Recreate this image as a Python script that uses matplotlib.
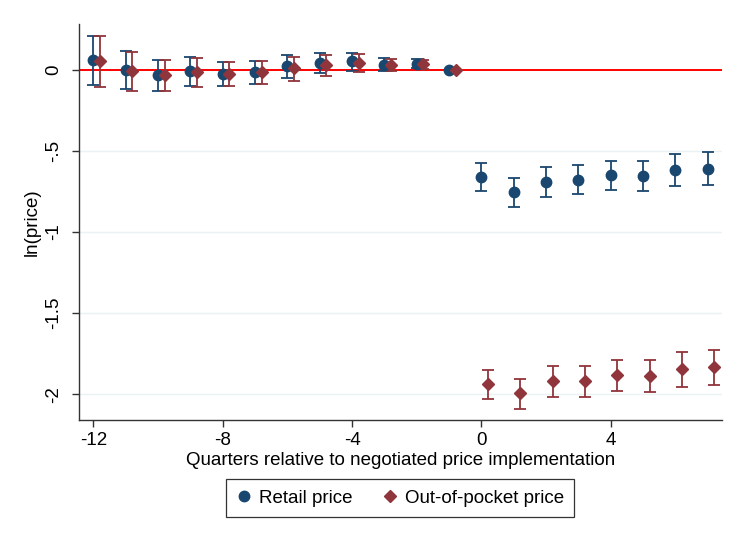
import matplotlib
matplotlib.use("Agg")
import matplotlib.pyplot as plt
import numpy as np

plt.rcParams["font.family"] = ["Liberation Sans", "DejaVu Sans"]

# event-time quarters (-1 is the omitted reference period)
quarters = [-12, -11, -10, -9, -8, -7, -6, -5, -4, -3, -2, -1, 0, 1, 2, 3, 4, 5, 6, 7]

retail = [0.06, 0.0, -0.033, -0.01, -0.027, -0.016, 0.02, 0.041, 0.051, 0.031, 0.035, 0.0,
          -0.662, -0.756, -0.693, -0.683, -0.652, -0.656, -0.617, -0.611]
retail_lo = [-0.094, -0.119, -0.129, -0.102, -0.1, -0.088, -0.053, -0.022, -0.006, -0.006, 0.01, 0.0,
             -0.746, -0.847, -0.785, -0.769, -0.742, -0.748, -0.715, -0.711]
retail_hi = [0.209, 0.117, 0.059, 0.08, 0.045, 0.051, 0.092, 0.102, 0.102, 0.07, 0.064, 0.0,
             -0.576, -0.670, -0.601, -0.59, -0.564, -0.564, -0.517, -0.506]

oop = [0.051, -0.01, -0.033, -0.016, -0.027, -0.016, 0.008, 0.031, 0.041, 0.029, 0.033, 0.0,
       -1.937, -1.995, -1.921, -1.921, -1.882, -1.888, -1.847, -1.835]
oop_lo = [-0.105, -0.129, -0.129, -0.109, -0.1, -0.088, -0.068, -0.037, -0.016, -0.01, 0.006, 0.0,
          -2.028, -2.089, -2.019, -2.015, -1.980, -1.988, -1.958, -1.946]
oop_hi = [0.209, 0.107, 0.059, 0.072, 0.045, 0.051, 0.08, 0.09, 0.096, 0.064, 0.062, 0.0,
          -1.851, -1.909, -1.825, -1.825, -1.788, -1.790, -1.739, -1.728]

x_ticks = [-12, -8, -4, 0, 4]
y_ticks = [0, -0.5, -1, -1.5, -2]
y_tick_labels = ["0", "-.5", "-1", "-1.5", "-2"]

navy = "#1a476f"
maroon = "#90353b"
grid_col = "#eaf2f3"
fs = 13.5

fig = plt.figure(figsize=(7.37, 5.38), dpi=100)
ax = fig.add_axes([0.107, 0.219, 0.873, 0.736])

x = np.array(quarters, dtype=float)
x_oop = x + 0.2

def draw(ax, xs, est, lo, hi, color, marker, ms, label):
    est = np.array(est)
    err = np.vstack([est - np.array(lo), np.array(hi) - est])
    has_ci = err.sum(axis=0) > 0
    ax.errorbar(xs[has_ci], est[has_ci], yerr=err[:, has_ci], fmt="none",
                ecolor=color, elinewidth=1.3, capsize=4.5, capthick=1.3, zorder=3)
    ax.plot(xs, est, linestyle="none", marker=marker, markersize=ms,
            color=color, markeredgecolor=color, label=label, zorder=4)

for yv in y_ticks[1:]:
    ax.axhline(yv, color=grid_col, lw=1.0, zorder=0)
ax.axhline(0, color="red", lw=1.4, zorder=2)

draw(ax, x, retail, retail_lo, retail_hi, navy, "o", 7.5, "Retail price")
draw(ax, x_oop, oop, oop_lo, oop_hi, maroon, "D", 6.5, "Out-of-pocket price")

ax.set_xlim(-12.45, 7.45)
ax.set_ylim(-2.16, 0.28)
ax.set_xticks(x_ticks)
ax.set_xticklabels([str(t) for t in x_ticks])
ax.set_yticks(y_ticks)
ax.set_yticklabels(y_tick_labels, rotation=90, va="center")
ax.tick_params(axis="both", labelsize=fs, length=5, width=1, color="#333333", direction="out")
ax.tick_params(axis="y", pad=7)

for side in ["top", "right"]:
    ax.spines[side].set_visible(False)
for side in ["left", "bottom"]:
    ax.spines[side].set_color("#333333")
    ax.spines[side].set_linewidth(1.0)

ax.set_xlabel("Quarters relative to negotiated price implementation", fontsize=fs, labelpad=2)
ax.set_ylabel("ln(price)", fontsize=fs, labelpad=3)

leg = fig.legend(loc="center", bbox_to_anchor=(0.543, 0.074), ncol=2, fontsize=fs,
                 frameon=True, fancybox=False, edgecolor="black", handletextpad=0.4,
                 columnspacing=1.6, borderpad=0.55, handlelength=0.8)
leg.get_frame().set_linewidth(0.9)

fig.savefig("out.png", dpi=100, facecolor="white")
